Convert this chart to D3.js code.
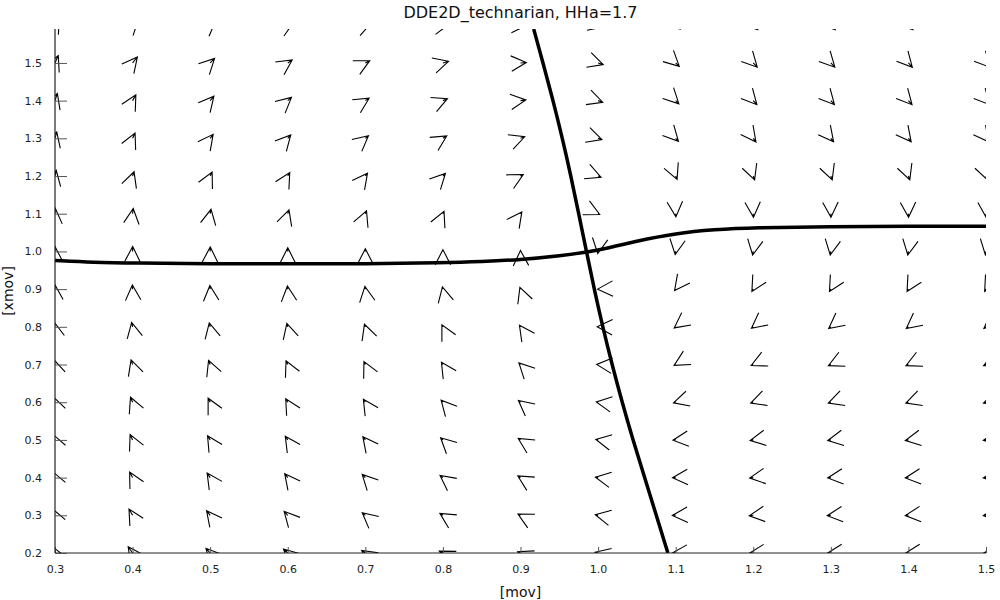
<!DOCTYPE html>
<html><head><meta charset="utf-8">
<script src="https://cdn.jsdelivr.net/npm/d3@7"></script>
<style>body{margin:0;background:#fff}svg{display:block}</style>
</head><body><svg id="c" width="1000" height="600"></svg>
<script>
// ---- data ----
const title = "DDE2D_technarian, HHa=1.7";
const xLabel = "[mov]";
const yLabel = "[xmov]";
const xTicks = [0.3,0.4,0.5,0.6,0.7,0.8,0.9,1.0,1.1,1.2,1.3,1.4,1.5];
const yTicks = [0.2,0.3,0.4,0.5,0.6,0.7,0.8,0.9,1.0,1.1,1.2,1.3,1.4,1.5];
// grid of the direction field
const gridX = [0.3,0.4,0.5,0.6,0.7,0.8,0.9,1.0,1.1,1.2,1.3,1.4,1.5];
const gridY = [1.6,1.5,1.4,1.3,1.2,1.1,1.0,0.9,0.8,0.7,0.6,0.5,0.4,0.3,0.2];
// direction of the field at each grid point (degrees, 0 = right, 90 = up), rows follow gridY
const direction = [
  [ 60, 45, 40, 28, 22, 10, -2, -15, -40, -45, -45, -45, -45],
  [ 66, 51, 45, 34, 27, 16,  4, -18, -43, -47, -47, -48, -48],
  [ 72, 61, 50, 41, 32, 23,  7, -19, -45, -48, -48, -48, -48],
  [ 75, 65, 53, 48, 40, 32, 20, -18, -47, -53, -52, -52, -52],
  [ 78, 71, 64, 60, 53, 46, 28, -22, -67, -70, -70, -70, -70],
  [ 87, 83, 79, 72, 68, 66, 54, -26, -86, -87, -88, -88, -88],
  [ 90, 89, 89, 90, 90, 90, 92, -99, -99,-100,-100,-100,-100],
  [ 92, 93, 95, 96, 99,103,110, 182, 233, 240, 240, 240, 240],
  [100,102,103,105,109,117,125, 178, 217, 218, 218, 218, 218],
  [106,108,111,115,116,123,135, 175, 210, 205, 205, 205, 205],
  [110,113,117,120,123,132,141, 171, 196, 199, 199, 199, 199],
  [112,115,122,124,128,137,148, 169, 186, 190, 190, 190, 190],
  [113,118,124,128,134,143,149, 170, 183, 188, 186, 186, 186],
  [113,120,128,132,140,148,152, 168, 183, 187, 186, 186, 186],
  [115,125,132,137,145,152,156, 166, 182, 185, 185, 185, 185]
];
// relative magnitude of the field at each grid point, rows follow gridY
const magnitude = [
  [0.95,0.90,0.80,0.75,0.70,0.70,0.70,0.65,0.65,0.70,0.70,0.70,0.70],
  [0.90,0.85,0.70,0.60,0.55,0.65,0.65,0.60,0.55,0.65,0.65,0.65,0.65],
  [0.85,0.75,0.65,0.55,0.50,0.55,0.60,0.55,0.50,0.60,0.60,0.60,0.60],
  [0.75,0.65,0.55,0.50,0.45,0.50,0.50,0.45,0.45,0.50,0.50,0.50,0.50],
  [0.65,0.50,0.50,0.45,0.40,0.40,0.35,0.35,0.40,0.45,0.45,0.45,0.45],
  [0.60,0.58,0.50,0.45,0.35,0.30,0.25,0.20,0.35,0.40,0.40,0.40,0.40],
  [0.55,0.55,0.50,0.40,0.30,0.20,0.10,0.25,0.35,0.40,0.40,0.40,0.40],
  [0.50,0.45,0.40,0.35,0.30,0.25,0.20,0.05,0.20,0.30,0.30,0.30,0.30],
  [0.55,0.50,0.45,0.40,0.30,0.25,0.20,0.10,0.20,0.25,0.30,0.30,0.30],
  [0.60,0.55,0.50,0.45,0.35,0.30,0.25,0.15,0.20,0.25,0.30,0.30,0.30],
  [0.65,0.60,0.50,0.45,0.40,0.30,0.30,0.20,0.25,0.30,0.30,0.30,0.30],
  [0.70,0.65,0.55,0.50,0.45,0.35,0.30,0.25,0.30,0.35,0.35,0.35,0.30],
  [0.75,0.70,0.60,0.55,0.50,0.40,0.35,0.30,0.35,0.40,0.35,0.35,0.30],
  [0.80,0.80,0.65,0.60,0.45,0.40,0.32,0.32,0.37,0.45,0.40,0.35,0.30],
  [0.85,0.85,0.70,0.65,0.50,0.45,0.35,0.35,0.40,0.45,0.40,0.35,0.30]
];
// nullcline 1 (nearly horizontal)
const null1X = [0.30,0.35,0.40,0.50,0.60,0.70,0.80,0.85,0.90,0.95,1.00,1.05,1.10,1.15,1.20,1.30,1.40,1.50];
const null1Y = [0.976,0.971,0.969,0.967,0.967,0.967,0.970,0.973,0.978,0.988,1.002,1.028,1.048,1.058,1.063,1.066,1.067,1.067];
// nullcline 2 (steep)
const null2X = [0.917,0.929,0.942,0.954,0.965,0.975,0.985,0.995,1.006,1.018,1.031,1.045,1.060,1.075,1.090];
const null2Y = [1.59,1.50,1.40,1.30,1.20,1.10,1.00,0.90,0.80,0.70,0.60,0.50,0.40,0.30,0.20];

// ---- drawing ----
const svg = d3.select("#c");
const L = 55, R = 986, T = 29, B = 553;
const x = d3.scaleLinear().domain([0.3,1.5]).range([L,R]);
const y = d3.scaleLinear().domain([0.2,1.59]).range([B,T]);
const shaft = d3.scaleLinear().domain([0,1]).range([0,9]);
const HEAD = 17, HALF = 27 * Math.PI/180;
const font = "DejaVu Sans, sans-serif";

svg.append("defs").append("clipPath").attr("id","clip")
  .append("rect").attr("x",L).attr("y",T).attr("width",R-L).attr("height",B-T);

const field = svg.append("g").attr("clip-path","url(#clip)")
  .attr("stroke","#000").attr("stroke-width",1.1).attr("fill","none");

const arrows = [];
gridY.forEach((yv,i)=>gridX.forEach((xv,j)=>arrows.push({x:xv,y:yv,a:direction[i][j],m:magnitude[i][j]})));

field.selectAll("path.arrow").data(arrows).join("path").attr("class","arrow")
  .attr("d", d=>{
    const px = x(d.x), py = y(d.y);
    const t = d.a*Math.PI/180;
    const l = shaft(d.m);
    const tx = px + l*Math.cos(t), ty = py - l*Math.sin(t);
    const b1 = t + Math.PI - HALF, b2 = t + Math.PI + HALF;
    return `M${px},${py}L${tx},${ty}` +
      `M${tx + HEAD*Math.cos(b1)},${ty - HEAD*Math.sin(b1)}L${tx},${ty}L${tx + HEAD*Math.cos(b2)},${ty - HEAD*Math.sin(b2)}`;
  });

const curves = svg.append("g").attr("clip-path","url(#clip)");
const line = d3.line().curve(d3.curveBasis);
curves.append("path").attr("d", line(null1X.map((v,i)=>[x(v), y(null1Y[i])])))
  .attr("fill","none").attr("stroke","#000").attr("stroke-width",3.5);
curves.append("path").attr("d", line(null2X.map((v,i)=>[x(v), y(null2Y[i])])))
  .attr("fill","none").attr("stroke","#000").attr("stroke-width",3.5);

// axes
const fmt = d3.format(".1f");
const ax = svg.append("g").attr("transform",`translate(0,${B})`)
  .call(d3.axisBottom(x).tickValues(xTicks).tickFormat(fmt).tickSize(-6).tickSizeOuter(0).tickPadding(12));
const ay = svg.append("g").attr("transform",`translate(${L},0)`)
  .call(d3.axisLeft(y).tickValues(yTicks).tickFormat(fmt).tickSize(-12).tickSizeOuter(0).tickPadding(13));
[ax,ay].forEach(g=>{
  g.select(".domain").attr("stroke","#222").attr("stroke-width",1.2);
  g.selectAll(".tick line").attr("stroke","#555").attr("stroke-width",1);
  g.selectAll("text").attr("font-family",font).attr("font-size",11).attr("fill","#222");
});
ay.select(".domain").attr("d",`M0,${T}V${B}`);
ax.select(".domain").attr("d",`M${L},0H${R}`);

svg.append("text").attr("x",(L+R)/2).attr("y",18).attr("text-anchor","middle")
  .attr("font-family",font).attr("font-size",16).attr("fill","#111").text(title);
svg.append("text").attr("x",(L+R)/2).attr("y",597).attr("text-anchor","middle")
  .attr("font-family",font).attr("font-size",14).attr("fill","#111").text(xLabel);
svg.append("text").attr("transform",`translate(13,${(T+B)/2}) rotate(-90)`).attr("text-anchor","middle")
  .attr("font-family",font).attr("font-size",14).attr("fill","#111").text(yLabel);
</script></body></html>
